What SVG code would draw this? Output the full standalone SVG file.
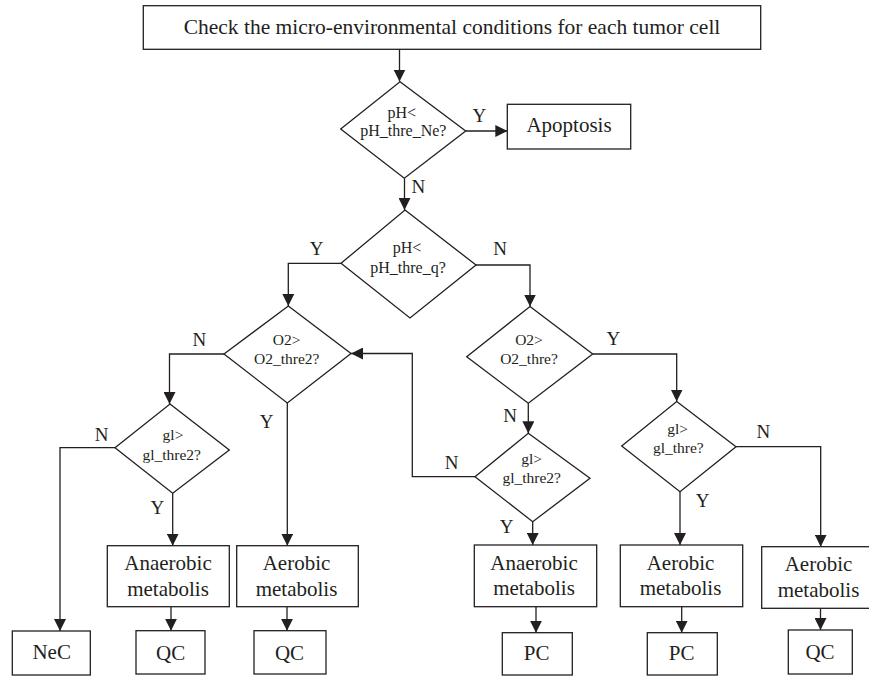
<svg xmlns="http://www.w3.org/2000/svg" width="869" height="676" viewBox="0 0 869 676">
<style>
.box{fill:#fff;stroke:#231f20;stroke-width:1.3}
.dia{fill:#fff;stroke:#231f20;stroke-width:1.3}
.ln{fill:none;stroke:#231f20;stroke-width:1.3;marker-end:url(#ah)}
text{font-family:"Liberation Serif","Times New Roman",serif;fill:#231f20;text-anchor:middle}
.big{font-size:21px}
.sm{font-size:15.5px}
.ph{font-size:16px}
.yn{font-size:19px}
</style>
<defs>
<marker id="ah" viewBox="0 0 12 12" refX="12" refY="6" markerWidth="12" markerHeight="12" markerUnits="userSpaceOnUse" orient="auto">
<path d="M0,0 L12,6 L0,12 z" fill="#231f20"/>
</marker>
</defs>
<rect width="869" height="676" fill="#fff"/>
<g id="connectors">
<path class="ln" d="M399.5,49.3 V81.5"/>
<path class="ln" d="M465.7,131 H507.3"/>
<path class="ln" d="M404.5,178.3 V210"/>
<path class="ln" d="M341,263.3 H288.3 V306"/>
<path class="ln" d="M476,265 H530 V306.5"/>
<path class="ln" d="M224,354 H169.5 V404"/>
<path class="ln" d="M287.3,403 V545.7"/>
<path class="ln" d="M115,447.7 H60 V631"/>
<path class="ln" d="M172.7,493.3 V545.7"/>
<path class="ln" d="M171,606.7 V630.7"/>
<path class="ln" d="M287,606.7 V630.7"/>
<path class="ln" d="M592.7,354 H676.7 V401.5"/>
<path class="ln" d="M528.3,403.3 V433.3"/>
<path class="ln" d="M475,476.7 H412.3 V353.5 H351"/>
<path class="ln" d="M532.7,521.7 V545"/>
<path class="ln" d="M536,606.7 V632.7"/>
<path class="ln" d="M680,491.7 V545"/>
<path class="ln" d="M681.7,606.7 V632.7"/>
<path class="ln" d="M736,446.7 H820.7 V546.7"/>
<path class="ln" d="M820.5,608.3 V630"/>
<text class="yn" x="479.3" y="121.5">Y</text>
<text class="yn" x="418.3" y="192.5">N</text>
<text class="yn" x="316.7" y="255">Y</text>
<text class="yn" x="500" y="255">N</text>
<text class="yn" x="199.3" y="346">N</text>
<text class="yn" x="266.7" y="428.3">Y</text>
<text class="yn" x="101.7" y="440.7">N</text>
<text class="yn" x="157.3" y="514">Y</text>
<text class="yn" x="613.3" y="345">Y</text>
<text class="yn" x="510" y="421.7">N</text>
<text class="yn" x="451.7" y="469">N</text>
<text class="yn" x="763.3" y="438.3">N</text>
<text class="yn" x="702.7" y="506.7">Y</text>
<text class="yn" x="506.7" y="533.3">Y</text>
</g>
<g id="start">
<rect class="box" x="143.3" y="5.7" width="617.4" height="43.6"/>
<text x="452" y="33.5" font-size="21.5px">Check the micro-environmental conditions for each tumor cell</text>
</g>
<g id="d-ph-ne">
<polygon class="dia" points="400,81.7 465.7,131 404.3,178.3 340.7,129"/>
<text class="ph" x="401.7" y="118.3">pH&lt;</text>
<text class="ph" x="403.3" y="136">pH_thre_Ne?</text>
</g>
<g id="apoptosis">
<rect class="box" x="507.3" y="104.3" width="123.4" height="44.7"/>
<text class="big" x="569" y="132">Apoptosis</text>
</g>
<g id="d-ph-q">
<polygon class="dia" points="405,210 476,265 410,318 341,263.3"/>
<text class="ph" x="407" y="253">pH&lt;</text>
<text class="ph" x="408" y="273">pH_thre_q?</text>
</g>
<g id="d-o2-thre2">
<polygon class="dia" points="288.3,306 351,353.5 287.3,403 224,354"/>
<text class="sm" x="286.7" y="345">O2&gt;</text>
<text class="sm" x="286.7" y="364">O2_thre2?</text>
</g>
<g id="d-o2-thre">
<polygon class="dia" points="530,306.5 592.7,354 528.3,403.3 466.7,356.7"/>
<text class="sm" x="529" y="345">O2&gt;</text>
<text class="sm" x="529" y="364">O2_thre?</text>
</g>
<g id="d-gl-left">
<polygon class="dia" points="170,404 229.3,450 172.7,493.3 115,447.7"/>
<text class="sm" x="173" y="440">gl&gt;</text>
<text class="sm" x="171.7" y="460">gl_thre2?</text>
</g>
<g id="d-gl-mid">
<polygon class="dia" points="528.3,433.3 590,478.3 532.7,521.7 475,476.7"/>
<text class="sm" x="531.7" y="464">gl&gt;</text>
<text class="sm" x="531.7" y="483">gl_thre2?</text>
</g>
<g id="d-gl-right">
<polygon class="dia" points="676.7,401.5 736,446.7 680,491.7 621.7,446"/>
<text class="sm" x="677.7" y="434">gl&gt;</text>
<text class="sm" x="678.3" y="453">gl_thre?</text>
</g>
<g id="anaerobic-left">
<rect class="box" x="107.3" y="545.7" width="122" height="61"/>
<text class="big" x="168" y="569.5">Anaerobic</text>
<text class="big" x="168" y="595.7">metabolis</text>
</g>
<g id="aerobic-left">
<rect class="box" x="236.7" y="545.7" width="121.6" height="61"/>
<text class="big" x="296.5" y="569.5">Aerobic</text>
<text class="big" x="296.5" y="595.7">metabolis</text>
</g>
<g id="anaerobic-mid">
<rect class="box" x="474.3" y="545" width="122.4" height="61.7"/>
<text class="big" x="534" y="570">Anaerobic</text>
<text class="big" x="534" y="595">metabolis</text>
</g>
<g id="aerobic-mid">
<rect class="box" x="620.3" y="545" width="122.4" height="61.7"/>
<text class="big" x="680.5" y="570">Aerobic</text>
<text class="big" x="680.5" y="595">metabolis</text>
</g>
<g id="aerobic-right">
<rect class="box" x="761.7" y="546.7" width="122" height="61.6"/>
<text class="big" x="818.5" y="571">Aerobic</text>
<text class="big" x="818.5" y="596.7">metabolis</text>
</g>
<g id="nec">
<rect class="box" x="12.3" y="631" width="78" height="44"/>
<text class="big" x="51.7" y="658.5">NeC</text>
</g>
<g id="qc-1">
<rect class="box" x="136" y="630.7" width="69" height="43.3"/>
<text class="big" x="170.7" y="659.5">QC</text>
</g>
<g id="qc-2">
<rect class="box" x="254" y="630.7" width="72" height="43.3"/>
<text class="big" x="289.5" y="659.5">QC</text>
</g>
<g id="pc-1">
<rect class="box" x="502.3" y="632.7" width="70" height="42.3"/>
<text class="big" x="536.7" y="659.5">PC</text>
</g>
<g id="pc-2">
<rect class="box" x="647.3" y="632.7" width="70" height="42.3"/>
<text class="big" x="681.7" y="659.5">PC</text>
</g>
<g id="qc-3">
<rect class="box" x="788.3" y="630" width="64" height="44"/>
<text class="big" x="820" y="658.5">QC</text>
</g>
</svg>
